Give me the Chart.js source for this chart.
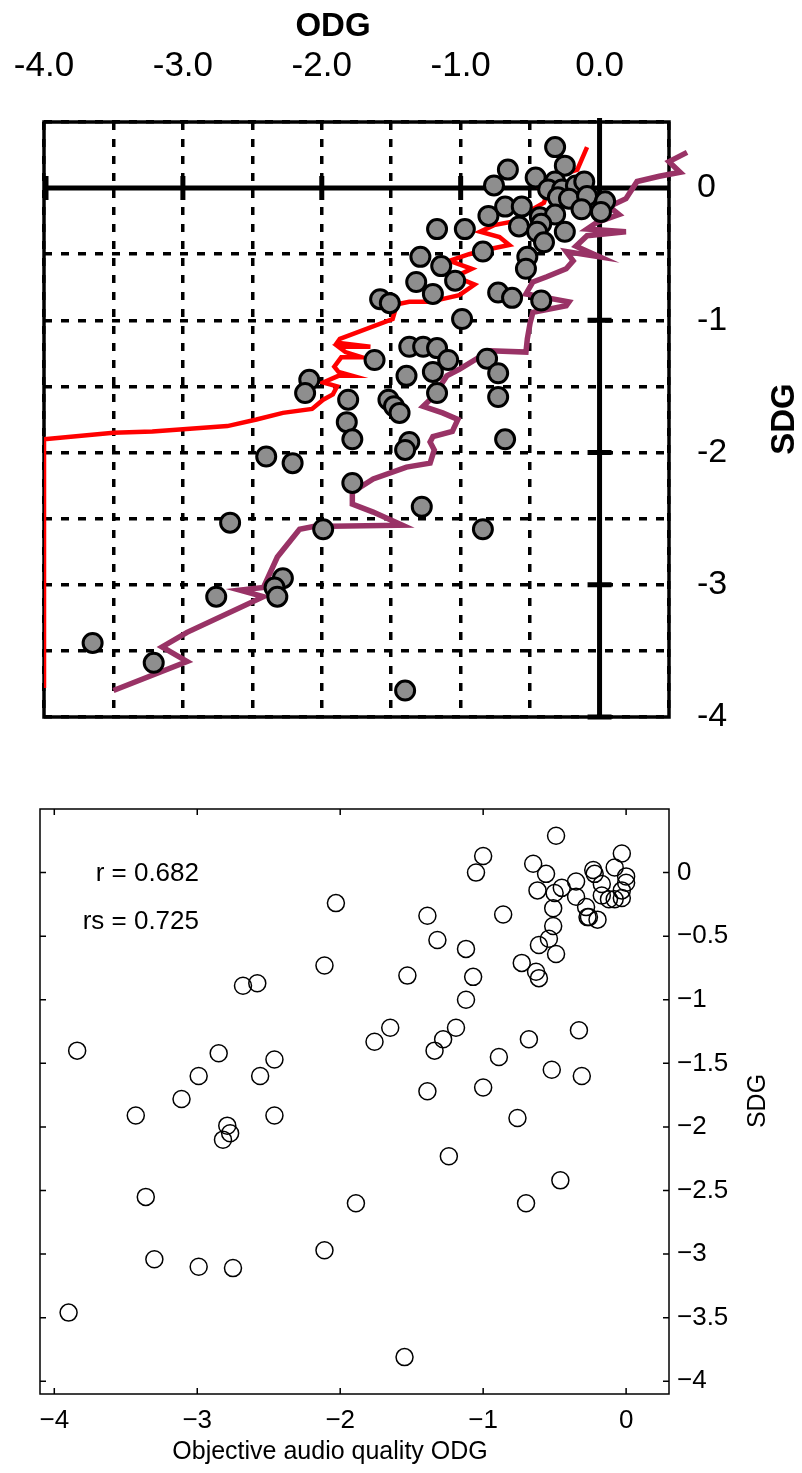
<!DOCTYPE html>
<html lang="en">
<head>
  <meta charset="UTF-8">
  <title>ODG vs SDG</title>
  <script src="https://cdn.jsdelivr.net/npm/chart.js"></script>
  <style>
    body { margin: 0; background: #fff; }
    .panel { position: absolute; left: 0; width: 802px; }
    #topPanel { top: 0; height: 740px; }
    #bottomPanel { top: 740px; height: 733px; }
  </style>
</head>
<body>
  <div class="panel" id="topPanel"><canvas id="mappingChart"></canvas></div>
  <div class="panel" id="bottomPanel"><canvas id="scatterChart"></canvas></div>

  <script>
    const FONT = 'Liberation Sans, Arial, Helvetica, sans-serif';

    // --- upper panel: listening test items, ODG on top, SDG on right ---
    const itemOdg = [-0.32, -0.25, -0.66, -0.46, -0.76, -0.32, -0.37, -0.27, -0.17, -0.11,
      -0.30, -0.22, -0.09, 0.04, 0.01, -0.13, -0.68, -0.56, -0.80, -0.43,
      -0.32, -0.58, -0.42, -0.45, -0.25, -0.40, -1.17, -0.97, -0.84, -1.14,
      -0.52, -0.53, -1.29, -1.04, -1.32, -1.20, -1.58, -1.51, -0.73, -0.63,
      -0.42, -0.99, -1.37, -1.27, -1.17, -1.09, -0.81, -0.73, -1.20, -1.39,
      -1.17, -0.73, -1.62, -1.52, -1.48, -1.44, -1.81, -1.82, -2.09, -2.12,
      -1.78, -1.37, -1.40, -2.40, -2.21, -1.78, -2.66, -1.99, -1.28, -0.84,
      -0.68, -2.28, -2.34, -2.32, -2.76, -3.65, -3.21, -1.40];
    const itemSdg = [0.31, 0.17, 0.14, 0.08, 0.02, 0.05, -0.01, -0.01, 0.02, 0.05,
      -0.07, -0.08, -0.06, -0.10, -0.18, -0.16, -0.14, -0.14, -0.21, -0.22,
      -0.20, -0.29, -0.27, -0.33, -0.33, -0.41, -0.31, -0.31, -0.48, -0.59,
      -0.52, -0.61, -0.52, -0.70, -0.71, -0.80, -0.84, -0.87, -0.79, -0.83,
      -0.85, -0.99, -1.20, -1.20, -1.21, -1.30, -1.29, -1.40, -1.39, -1.42,
      -1.55, -1.58, -1.30, -1.60, -1.65, -1.70, -1.60, -1.77, -1.45, -1.55,
      -1.90, -1.92, -1.98, -2.03, -2.08, -2.23, -2.53, -2.58, -2.41, -2.58,
      -1.90, -2.95, -3.02, -3.09, -3.09, -3.44, -3.59, -3.80];

    // red mapping curve
    const redOdg = [-4.00, -4.00, -3.50, -3.22, -2.68, -2.47, -2.28, -2.07, -1.99, -1.92,
      -1.89, -1.99, -1.88, -1.78, -1.88, -1.91, -1.86, -1.71, -1.83, -1.88,
      -1.65, -1.89, -1.87, -1.49, -1.47, -1.51, -1.37, -1.22, -1.01, -0.90,
      -1.04, -0.92, -1.08, -0.94, -0.79, -0.65, -0.72, -0.86, -0.76, -0.61,
      -0.50, -0.40, -0.37, -0.43, -0.30, -0.16, -0.09];
    const redSdg = [-3.78, -1.90, -1.85, -1.84, -1.80, -1.75, -1.70, -1.67, -1.60, -1.56,
      -1.50, -1.47, -1.42, -1.42, -1.39, -1.35, -1.28, -1.28, -1.24, -1.20,
      -1.20, -1.17, -1.14, -0.99, -0.92, -0.89, -0.86, -0.86, -0.81, -0.73,
      -0.67, -0.61, -0.55, -0.50, -0.46, -0.43, -0.37, -0.33, -0.28, -0.25,
      -0.17, -0.11, -0.01, 0.01, 0.09, 0.14, 0.31];

    // purple mapping curve
    const purpleOdg = [-3.50, -2.97, -3.15, -2.97, -2.42, -2.59, -2.42, -2.32, -2.16, -2.06,
      -1.42, -1.63, -1.78, -1.78, -1.63, -1.39, -1.22, -1.19, -1.22, -1.20,
      -1.06, -1.02, -1.13, -1.27, -1.20, -1.10, -1.01, -0.79, -0.53, -0.52,
      -0.50, -0.48, -0.24, -0.22, -0.53, -0.48, -0.38, -0.24, -0.19, -0.24,
      0.00, -0.17, -0.09, 0.19, -0.09, -0.02, 0.14, 0.07, 0.19, 0.27,
      0.43, 0.58, 0.50, 0.63];
    const purpleSdg = [-3.80, -3.58, -3.47, -3.36, -3.09, -3.04, -3.02, -2.79, -2.58, -2.56,
      -2.55, -2.45, -2.39, -2.30, -2.20, -2.11, -2.08, -1.98, -1.92, -1.88,
      -1.84, -1.75, -1.70, -1.65, -1.58, -1.42, -1.37, -1.23, -1.24, -1.14,
      -1.02, -0.94, -0.89, -0.86, -0.80, -0.71, -0.67, -0.61, -0.55, -0.48,
      -0.52, -0.44, -0.36, -0.33, -0.31, -0.26, -0.20, -0.14, -0.08, 0.05,
      0.09, 0.12, 0.20, 0.27];

    const topXTicks = [-4, -3.5, -3, -2.5, -2, -1.5, -1, -0.5, 0, 0.5];
    const topXLabels = ['-4.0', '', '-3.0', '', '-2.0', '', '-1.0', '', '0.0', ''];
    const topYTicks = [-4, -3.5, -3, -2.5, -2, -1.5, -1, -0.5, 0, 0.5];
    const topYLabels = ['-4', '', '-3', '', '-2', '', '-1', '', '0', ''];
    const axisMarksX = [-4, -3, -2, -1];
    const axisMarksY = [-1, -2, -3, -4];

    // --- lower panel: objective vs subjective grades ---
    const odg = [-3.84, -3.43, -3.11, -2.99, -2.85, -2.79, -2.77, -2.82, -2.56, -2.46,
      -2.46, -2.68, -2.58, -2.11, -2.03, -1.76, -1.65, -1.53, -3.36, -1.89,
      -2.11, -3.30, -2.99, -2.75, -3.90, -1.55, -0.76, -1.24, -0.46, -0.70,
      -0.49, -1.00, -1.05, -0.65, -0.56, -0.62, -0.50, -0.45, -0.35, -0.35,
      -0.23, -0.22, -0.17, -0.17, -0.12, -0.08, -0.03, -0.03, 0.00, 0.00,
      -0.03, -0.08, -0.51, -0.28, -0.26, -0.20, -0.51, -0.54, -0.61, -0.49,
      -0.86, -1.39, -1.32, -1.12, -1.07, -0.73, -0.63, -0.61, -1.12, -1.19,
      -1.28, -1.34, -0.68, -0.33, -0.89, -0.52, -0.31, -1.39, -1.00, -0.27];
    const sdg = [-1.40, -1.91, -1.78, -1.60, -1.42, -1.99, -2.05, -2.10, -1.60, -1.47,
      -1.91, -0.89, -0.87, -0.73, -0.24, -1.33, -1.22, -0.81, -2.55, -2.60,
      -2.97, -3.04, -3.10, -3.11, -3.46, -3.81, -1.93, -2.23, -2.42, -2.60,
      0.29, 0.13, 0.00, 0.07, -0.01, -0.14, -0.16, -0.12, -0.07, -0.19,
      0.02, -0.01, -0.09, -0.18, -0.21, -0.21, -0.20, -0.14, -0.08, -0.03,
      0.15, 0.04, -0.28, -0.27, -0.35, -0.37, -0.42, -0.52, -0.57, -0.64,
      -0.33, -0.34, -0.53, -0.60, -0.82, -0.71, -0.78, -0.83, -1.00, -1.22,
      -1.31, -1.40, -1.31, -1.24, -1.45, -1.55, -1.60, -1.72, -1.69, -0.35];

    const bottomXTicks = [-4, -3, -2, -1, 0];
    const bottomXLabels = ['\u22124', '\u22123', '\u22122', '\u22121', '0'];
    const bottomYTicks = [-4, -3.5, -3, -2.5, -2, -1.5, -1, -0.5, 0];
    const bottomYLabels = ['\u22124', '\u22123.5', '\u22123', '\u22122.5', '\u22122',
      '\u22121.5', '\u22121', '\u22120.5', '0'];
    const corrLines = ['r = 0.682', 'rs = 0.725'];

    const pairs = (xs, ys) => xs.map((x, i) => ({ x, y: ys[i] }));
    const setTicks = values => scale => { scale.ticks = values.map(v => ({ value: v })); };

    // frame, zero axes with their tick marks, and titles for the upper panel
    const mappingDecor = {
      id: 'mappingDecor',
      beforeDatasetsDraw(chart) {
        const { ctx, chartArea: a, scales: { x, y } } = chart;
        const x0 = x.getPixelForValue(0);
        const y0 = y.getPixelForValue(0);
        ctx.save();
        ctx.strokeStyle = '#000';
        ctx.lineWidth = 3.5;
        ctx.strokeRect(a.left, a.top, a.width, a.height);
        ctx.lineWidth = 5;
        ctx.beginPath();
        ctx.moveTo(a.left, y0);
        ctx.lineTo(a.right, y0);
        ctx.moveTo(x0, a.top - 4);
        ctx.lineTo(x0, a.bottom);
        axisMarksX.forEach(v => {
          const px = x.getPixelForValue(v) + (v === -4 ? 2 : 0);
          ctx.moveTo(px, y0 - 12);
          ctx.lineTo(px, y0 + 12);
        });
        axisMarksY.forEach(v => {
          const py = y.getPixelForValue(v);
          ctx.moveTo(x0 - 12, py);
          ctx.lineTo(x0 + 12, py);
        });
        ctx.stroke();
        ctx.restore();
      },
      afterDraw(chart) {
        const { ctx } = chart;
        ctx.save();
        ctx.fillStyle = '#000';
        ctx.font = 'bold 33px ' + FONT;
        ctx.textAlign = 'center';
        ctx.textBaseline = 'middle';
        ctx.fillText('ODG', 333, 27);
        ctx.translate(785, 419);
        ctx.rotate(-Math.PI / 2);
        ctx.fillText('SDG', 0, 0);
        ctx.restore();
      }
    };

    // dashed grid; the gap between plot and labels comes from an invisible tick
    // so that ticks.padding does not push the plot area inwards
    const dashedGrid = gap => ({
      color: '#000',
      lineWidth: 3.5,
      drawTicks: true,
      tickLength: gap,
      tickColor: 'rgba(0,0,0,0)'
    });

    new Chart(document.getElementById('mappingChart'), {
      type: 'scatter',
      data: {
        datasets: [
          {
            label: 'items',
            data: pairs(itemOdg, itemSdg),
            pointRadius: 9.5,
            pointBorderWidth: 3,
            backgroundColor: '#8e8e8e',
            borderColor: '#000',
            order: 0
          },
          {
            label: 'red',
            data: pairs(redOdg, redSdg),
            showLine: true,
            pointRadius: 0,
            borderColor: '#ff0000',
            borderWidth: 4.5,
            order: 2
          },
          {
            label: 'purple',
            data: pairs(purpleOdg, purpleSdg),
            showLine: true,
            pointRadius: 0,
            borderColor: '#993366',
            borderWidth: 5.5,
            clip: false,
            order: 1
          }
        ]
      },
      options: {
        responsive: true,
        maintainAspectRatio: false,
        animation: false,
        layout: { padding: { left: 44, top: 0, right: 0, bottom: 23 } },
        plugins: { legend: { display: false }, tooltip: { enabled: false } },
        scales: {
          x: {
            type: 'linear',
            position: 'top',
            min: -4,
            max: 0.5,
            afterBuildTicks: setTicks(topXTicks),
            afterFit: s => { s.height = 122; },
            grid: dashedGrid(35),
            border: { display: false, dash: [8, 9] },
            ticks: {
              autoSkip: false,
              maxRotation: 0,
              padding: 0,
              color: '#000',
              font: { family: FONT, size: 35 },
              callback: (v, i) => topXLabels[i]
            }
          },
          y: {
            type: 'linear',
            position: 'right',
            min: -4,
            max: 0.5,
            afterBuildTicks: setTicks(topYTicks),
            afterFit: s => { s.width = 133; },
            grid: dashedGrid(28),
            border: { display: false, dash: [8, 9] },
            ticks: {
              autoSkip: false,
              padding: 0,
              color: '#000',
              font: { family: FONT, size: 34 },
              callback: (v, i) => topYLabels[i]
            }
          }
        }
      },
      plugins: [mappingDecor]
    });

    // box with inward ticks, correlation text and axis titles for the lower panel
    const scatterDecor = {
      id: 'scatterDecor',
      afterDatasetsDraw(chart) {
        const { ctx, chartArea: a, scales: { x, y } } = chart;
        ctx.save();
        ctx.strokeStyle = '#000';
        ctx.lineWidth = 1.5;
        ctx.strokeRect(a.left, a.top, a.width, a.height);
        ctx.beginPath();
        bottomXTicks.forEach(v => {
          const px = x.getPixelForValue(v);
          ctx.moveTo(px, a.bottom);
          ctx.lineTo(px, a.bottom - 6);
          ctx.moveTo(px, a.top);
          ctx.lineTo(px, a.top + 6);
        });
        bottomYTicks.forEach(v => {
          const py = y.getPixelForValue(v);
          ctx.moveTo(a.left, py);
          ctx.lineTo(a.left + 6, py);
          ctx.moveTo(a.right, py);
          ctx.lineTo(a.right - 6, py);
        });
        ctx.stroke();

        ctx.fillStyle = '#000';
        ctx.textBaseline = 'middle';
        ctx.font = '26px ' + FONT;
        ctx.textAlign = 'right';
        ctx.fillText(corrLines[0], 199, 874 - 740);
        ctx.fillText(corrLines[1], 199, 922 - 740);

        ctx.font = '25px ' + FONT;
        ctx.textAlign = 'center';
        ctx.fillText('Objective audio quality ODG', 330, 1452 - 740);
        ctx.translate(758, 1101 - 740);
        ctx.rotate(-Math.PI / 2);
        ctx.fillText('SDG', 0, 0);
        ctx.restore();
      }
    };

    new Chart(document.getElementById('scatterChart'), {
      type: 'scatter',
      data: {
        datasets: [{
          label: 'SDG',
          data: pairs(odg, sdg),
          pointRadius: 8.5,
          pointBorderWidth: 1.5,
          backgroundColor: 'rgba(0,0,0,0)',
          borderColor: '#000'
        }]
      },
      options: {
        responsive: true,
        maintainAspectRatio: false,
        animation: false,
        layout: { padding: { left: 40, top: 69, right: 0, bottom: 0 } },
        plugins: { legend: { display: false }, tooltip: { enabled: false } },
        scales: {
          x: {
            type: 'linear',
            position: 'bottom',
            min: -4.1,
            max: 0.3,
            afterBuildTicks: setTicks(bottomXTicks),
            afterFit: s => { s.height = 79; },
            grid: { display: false, drawTicks: false },
            border: { display: false },
            ticks: {
              autoSkip: false,
              maxRotation: 0,
              padding: 11,
              color: '#000',
              font: { family: FONT, size: 26 },
              callback: (v, i) => bottomXLabels[i]
            }
          },
          y: {
            type: 'linear',
            position: 'right',
            min: -4.1,
            max: 0.5,
            afterBuildTicks: setTicks(bottomYTicks),
            afterFit: s => { s.width = 133; },
            grid: { display: false, drawTicks: false },
            border: { display: false },
            ticks: {
              autoSkip: false,
              padding: 8,
              color: '#000',
              font: { family: FONT, size: 26 },
              callback: (v, i) => bottomYLabels[i]
            }
          }
        }
      },
      plugins: [scatterDecor]
    });
  </script>
</body>
</html>
